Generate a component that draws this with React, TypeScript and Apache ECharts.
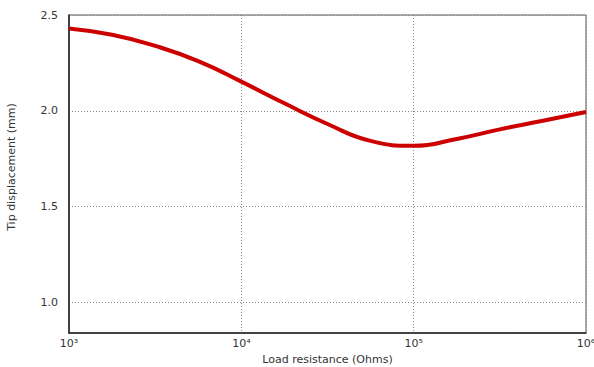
import React, { useEffect, useRef } from "react";
import * as echarts from "echarts";

// log10 of load resistance (Ohms) and tip displacement (mm)
const logResistance = [3.0, 3.25, 3.5, 3.75, 4.0, 4.25, 4.5, 4.75, 5.0, 5.25, 5.5, 5.75, 6.0];
const tipDisplacement = [2.43, 2.397, 2.339, 2.259, 2.152, 2.039, 1.931, 1.843, 1.817, 1.853, 1.903, 1.948, 1.994];
const yTicks = [1.0, 1.5, 2.0, 2.5];
const supDigits: Record<string, string> = { "3": "³", "4": "⁴", "5": "⁵", "6": "⁶" };

const FONT = "DejaVu Sans";

export default function App() {
  const ref = useRef<HTMLDivElement>(null);
  useEffect(() => {
    if (!ref.current) return;
    const chart = echarts.init(ref.current, null, { renderer: "svg" });
    const data = logResistance.map((l, i) => [Math.pow(10, l), tipDisplacement[i]]);
    chart.setOption({
      animation: false,
      grid: {
        left: 69,
        right: 8,
        top: 15,
        bottom: 34,
        outerBoundsMode: "none",
        show: true,
        borderColor: "#555",
        borderWidth: 1,
      },
      xAxis: {
        type: "log",
        logBase: 10,
        min: 1000,
        max: 1000000,
        name: "Load resistance (Ohms)",
        nameLocation: "middle",
        nameGap: 18,
        nameTextStyle: { color: "#333", fontFamily: FONT, fontSize: 11 },
        axisLine: { show: true, lineStyle: { color: "#222", width: 1.5 } },
        axisTick: { show: false },
        axisLabel: {
          color: "#333",
          fontFamily: FONT,
          fontSize: 11,
          margin: 5,
          alignMinLabel: "left",
          formatter: (v: number) => {
            const e = String(Math.round(Math.log10(v)));
            return "10" + (supDigits[e] ?? e);
          },
        },
        splitLine: { show: true, lineStyle: { color: "#888", type: [1, 2], width: 1 } },
      },
      yAxis: {
        type: "value",
        min: 0.84,
        max: 2.5,
        name: "Tip displacement (mm)",
        nameLocation: "middle",
        nameGap: 52,
        nameTextStyle: { color: "#333", fontFamily: FONT, fontSize: 11, padding: [0, 0, 0, 14] },
        axisLine: { show: true, lineStyle: { color: "#222", width: 1.5 } },
        axisTick: { show: false, customValues: yTicks },
        axisLabel: {
          color: "#333",
          fontFamily: FONT,
          fontSize: 11,
          margin: 11,
          customValues: yTicks,
          formatter: (v: number) => v.toFixed(1),
        },
        splitLine: { show: true, lineStyle: { color: "#888", type: [1, 2], width: 1 } },
      },
      series: [
        {
          type: "line",
          data,
          smooth: 0.5,
          showSymbol: false,
          lineStyle: { color: "#cc0000", width: 4 },
        },
      ],
    });
    return () => chart.dispose();
  }, []);
  return (
    <div
      ref={ref}
      style={{ position: "fixed", left: 0, top: 0, width: 594, height: 367, background: "#fff" }}
    />
  );
}
